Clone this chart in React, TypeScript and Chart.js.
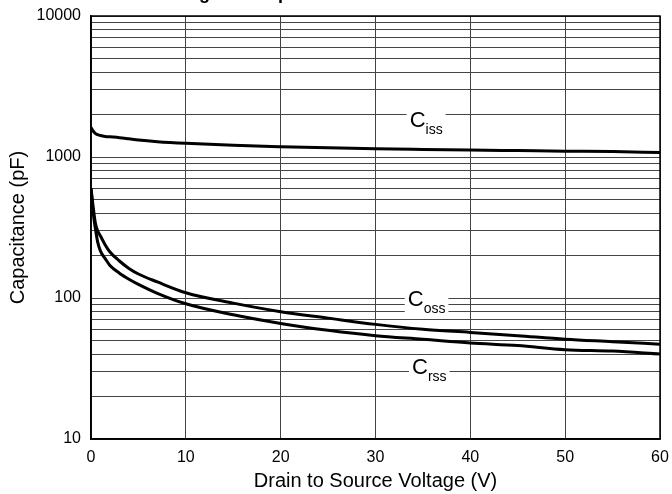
import React, { useEffect, useRef } from "react";
import { Chart, registerables } from "chart.js";

Chart.register(...registerables);

const VOLTAGE = [0, 0.2, 0.4, 0.5, 0.7, 1, 1.5, 2, 3, 4, 5, 7, 10, 15, 20, 25, 30, 35, 40, 45, 50, 55, 60];
const CISS = [1620, 1540, 1480, 1460, 1440, 1420, 1400, 1390, 1370, 1345, 1320, 1285, 1250, 1210, 1183, 1162, 1145, 1132, 1120, 1110, 1100, 1092, 1075];
const COSS = [600, 460, 360, 330, 300, 275, 238, 212, 183, 162, 148, 130, 109, 92, 80, 72, 65, 60, 57, 54, 51, 49, 47];
const CRSS = [600, 420, 330, 300, 250, 215, 190, 170, 150, 136, 125, 108, 91, 76, 66, 59, 54, 51, 48, 46, 43, 42, 40];

const X_TICKS = [0, 10, 20, 30, 40, 50, 60];
const Y_MAJOR = [10, 100, 1000, 10000];
const TITLE = "Voltage vs. Capacitance";
const X_TITLE = "Drain to Source Voltage (V)";
const Y_TITLE = "Capacitance (pF)";

// labels: [main, subscript, voltage anchor, value at baseline]
const CURVE_LABELS: [string, string, number, number][] = [
  ["C", "iss", 33.6, 1620],
  ["C", "oss", 33.4, 87.7],
  ["C", "rss", 33.85, 28.9],
];

const FONT = "Arial, 'Liberation Sans', sans-serif";

export default function App() {
  const ref = useRef<HTMLCanvasElement | null>(null);

  useEffect(() => {
    document.body.style.margin = "0";
    document.body.style.overflow = "hidden";
    const canvas = ref.current!;
    const yGrid: number[] = [];
    for (let e = 1; e < 4; e++) {
      for (let s = 1; s < 10; s++) yGrid.push(s * Math.pow(10, e));
    }
    yGrid.push(10000);

    const mk = (vals: number[]) => VOLTAGE.map((v, i) => ({ x: v, y: vals[i] }));

    const labelPlugin = {
      id: "curveLabels",
      beforeDatasetsDraw(chart: any) {
        const ctx = chart.ctx;
        const xs = chart.scales.x;
        const ys = chart.scales.y;
        ctx.save();
        for (const [main, sub, v, val] of CURVE_LABELS) {
          const x = xs.getPixelForValue(v);
          const y = ys.getPixelForValue(val);
          ctx.font = `22px ${FONT}`;
          const wMain = ctx.measureText(main).width;
          ctx.font = `14px ${FONT}`;
          const wSub = ctx.measureText(sub).width;
          ctx.fillStyle = "#fff";
          ctx.fillRect(x - 3, y - 19, wMain + wSub + 6, 30);
          ctx.fillStyle = "#000";
          ctx.textBaseline = "alphabetic";
          ctx.textAlign = "left";
          ctx.font = `22px ${FONT}`;
          ctx.fillText(main, x, y);
          ctx.font = `14px ${FONT}`;
          ctx.fillText(sub, x + wMain, y + 7);
        }
        ctx.restore();
      },
      afterDraw(chart: any) {
        const ctx = chart.ctx;
        const a = chart.chartArea;
        ctx.save();
        ctx.strokeStyle = "#000";
        ctx.lineWidth = 1.5;
        ctx.strokeRect(a.left, a.top, a.right - a.left, a.bottom - a.top);
        ctx.font = `bold 18px ${FONT}`;
        ctx.fillStyle = "#000";
        ctx.textBaseline = "alphabetic";
        ctx.textAlign = "left";
        const gi = TITLE.indexOf("g");
        const off = ctx.measureText(TITLE.slice(0, gi)).width;
        ctx.fillText(TITLE, 199 - off, -1);
        ctx.restore();
      },
    };

    const ds = (label: string, vals: number[]) => ({
      label,
      data: mk(vals),
      borderColor: "#000",
      backgroundColor: "#000",
      borderWidth: 3,
      pointRadius: 0,
      cubicInterpolationMode: "monotone" as const,
      fill: false,
    });

    const zeroPad = (s: any) => {
      s.paddingTop = 0;
      s.paddingBottom = 0;
      s.paddingLeft = 0;
      s.paddingRight = 0;
    };

    const chart = new Chart(canvas, {
      type: "line",
      data: {
        datasets: [ds("Ciss", CISS), ds("Coss", COSS), ds("Crss", CRSS)],
      },
      options: {
        animation: false,
        responsive: false,
        maintainAspectRatio: false,
        layout: { padding: { left: 0, top: 16, right: 12, bottom: 0 } },
        plugins: {
          legend: { display: false },
          tooltip: { enabled: false },
          title: { display: false },
        },
        scales: {
          x: {
            type: "linear",
            min: 0,
            max: 60,
            afterBuildTicks: (s: any) => {
              s.ticks = X_TICKS.map((v) => ({ value: v }));
            },
            afterFit: (s: any) => {
              s.height = 55;
              zeroPad(s);
            },
            grid: { color: "#444", lineWidth: 1, drawTicks: false },
            border: { color: "#000", width: 1.5 },
            ticks: {
              color: "#000",
              font: { family: FONT, size: 16 },
              padding: 9,
              maxRotation: 0,
              autoSkip: false,
            },
            title: {
              display: true,
              text: X_TITLE,
              color: "#000",
              font: { family: FONT, size: 20 },
              padding: { top: 0, bottom: 1 },
            },
          },
          y: {
            type: "logarithmic",
            min: 10,
            max: 10000,
            afterBuildTicks: (s: any) => {
              s.ticks = yGrid.map((v) => ({ value: v }));
            },
            afterFit: (s: any) => {
              s.width = 91;
              zeroPad(s);
            },
            grid: { color: "#444", lineWidth: 1, drawTicks: false },
            border: { color: "#000", width: 1.5 },
            ticks: {
              color: "#000",
              font: { family: FONT, size: 16 },
              padding: 10,
              autoSkip: false,
              callback: (v: any) => (Y_MAJOR.includes(Number(v)) ? String(v) : ""),
            },
            title: {
              display: true,
              text: Y_TITLE,
              color: "#000",
              font: { family: FONT, size: 20 },
              padding: { top: 6, bottom: 0 },
            },
          },
        },
      },
      plugins: [labelPlugin],
    });
    return () => chart.destroy();
  }, []);

  return (
    <div style={{ width: 672, height: 494 }}>
      <canvas ref={ref} width={672} height={494} style={{ display: "block" }} />
    </div>
  );
}
